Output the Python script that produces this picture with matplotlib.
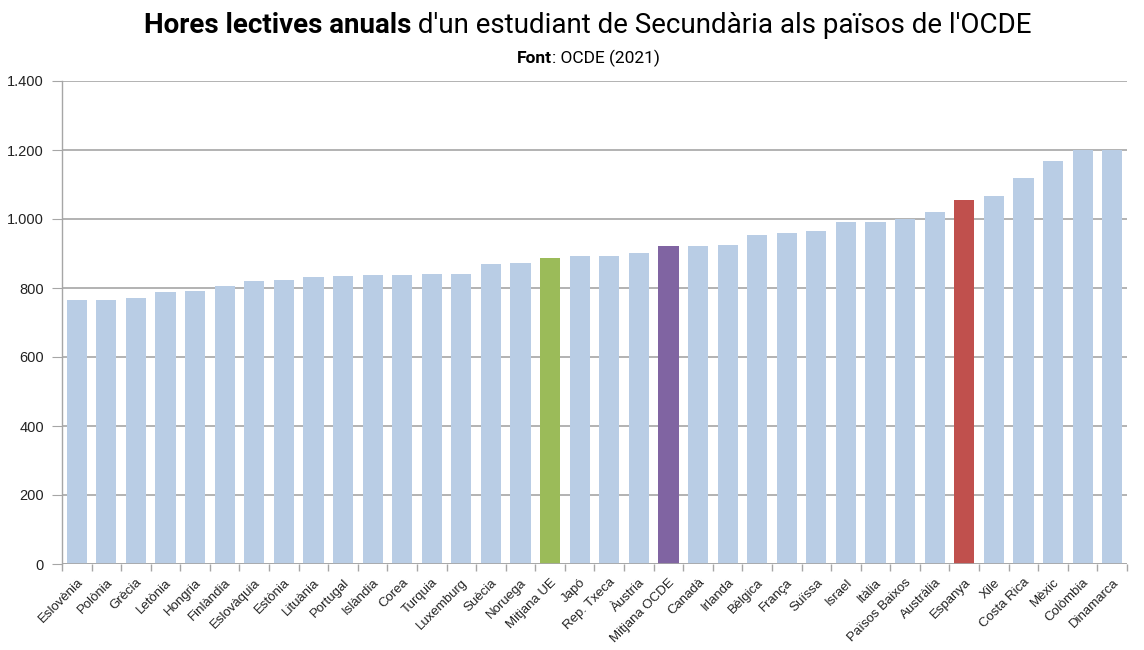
import matplotlib
matplotlib.use("Agg")
import matplotlib.pyplot as plt
from matplotlib.ticker import FuncFormatter, MultipleLocator, FixedLocator
import numpy as np

countries = ["Eslovènia", "Polònia", "Grècia", "Letònia", "Hongria", "Finlàndia",
             "Eslovàquia", "Estònia", "Lituània", "Portugal", "Islàndia", "Corea",
             "Turquia", "Luxemburg", "Suècia", "Noruega", "Mitjana UE", "Japó",
             "Rep. Txeca", "Àustria", "Mitjana OCDE", "Canadà", "Irlanda", "Bèlgica",
             "França", "Suïssa", "Israel", "Itàlia", "Països Baixos", "Austràlia",
             "Espanya", "Xile", "Costa Rica", "Mèxic", "Colòmbia", "Dinamarca"]
hours = [764, 764, 771, 788, 791, 805, 819, 822, 833, 835, 839, 839,
         842, 842, 869, 873, 887, 893, 893, 902, 922, 922, 926, 954,
         960, 964, 991, 991, 1001, 1019, 1055, 1066, 1119, 1168, 1200, 1200]
highlight = {"Mitjana UE": "#9BBB59", "Mitjana OCDE": "#8064A2", "Espanya": "#C0504D"}
base_color = "#B9CDE5"

W, H = 1144, 650
fig = plt.figure(figsize=(W / 100, H / 100), dpi=100)
ax = fig.add_axes([62 / W, (H - 564) / H, (1127 - 62) / W, (564 - 81) / H])

x = np.arange(len(countries))
colors = [highlight.get(c, base_color) for c in countries]
ax.bar(x, hours, width=0.68, color=colors, zorder=3)

ax.set_xlim(-0.5, len(countries) - 0.5)
ax.set_ylim(0, 1400)
ax.yaxis.set_major_locator(MultipleLocator(200))
ax.yaxis.set_major_formatter(FuncFormatter(lambda v, p: f"{int(v):,}".replace(",", ".")))
ax.grid(axis="y", color="#A6A6A6", linewidth=1.2, zorder=0)
for s in ["top", "right", "bottom"]:
    ax.spines[s].set_visible(False)
ax.spines["left"].set_color("#A6A6A6")
ax.spines["left"].set_linewidth(1.0)
ax.axhline(0, color="#A6A6A6", linewidth=1.2, zorder=4)

ax.tick_params(axis="y", length=7, color="#A6A6A6", labelsize=10.5, pad=6, labelcolor="#222222")
ax.set_xticks(x)
ax.set_xticklabels(countries, rotation=45, ha="right", rotation_mode="anchor",
                   fontsize=9.5, color="#222222")
ax.tick_params(axis="x", which="major", length=0, pad=9)
ax.xaxis.set_minor_locator(FixedLocator(np.arange(-0.5, len(countries), 1.0)))
ax.tick_params(axis="x", which="minor", length=5, color="#A6A6A6", width=1.0)
for lab in ax.get_yticklabels() + ax.get_xticklabels():
    lab.set_family(["Liberation Sans", "DejaVu Sans"])

# Title with mixed weight
tfam = ["Roboto", "DejaVu Sans"]
fig.canvas.draw()
r = fig.canvas.get_renderer()
t1 = fig.text(0, 0, "Hores lectives anuals", fontsize=20, fontweight="bold", family=tfam)
t2 = fig.text(0, 0, " d'un estudiant de Secundària als països de l'OCDE", fontsize=20, family=tfam)
w1 = t1.get_window_extent(r).width
w2 = t2.get_window_extent(r).width
cx = 588
start = cx - (w1 + w2) / 2
ty = (H - 33) / H
t1.set_position((start / W, ty))
t2.set_position(((start + w1) / W, ty))

s1 = fig.text(0, 0, "Font", fontsize=12.5, fontweight="bold", family=tfam)
s2 = fig.text(0, 0, ": OCDE (2021)", fontsize=12.5, family=tfam)
w1 = s1.get_window_extent(r).width
w2 = s2.get_window_extent(r).width
start = cx - (w1 + w2) / 2
sy = (H - 63) / H
s1.set_position((start / W, sy))
s2.set_position(((start + w1) / W, sy))

fig.savefig("out.png", dpi=100)
